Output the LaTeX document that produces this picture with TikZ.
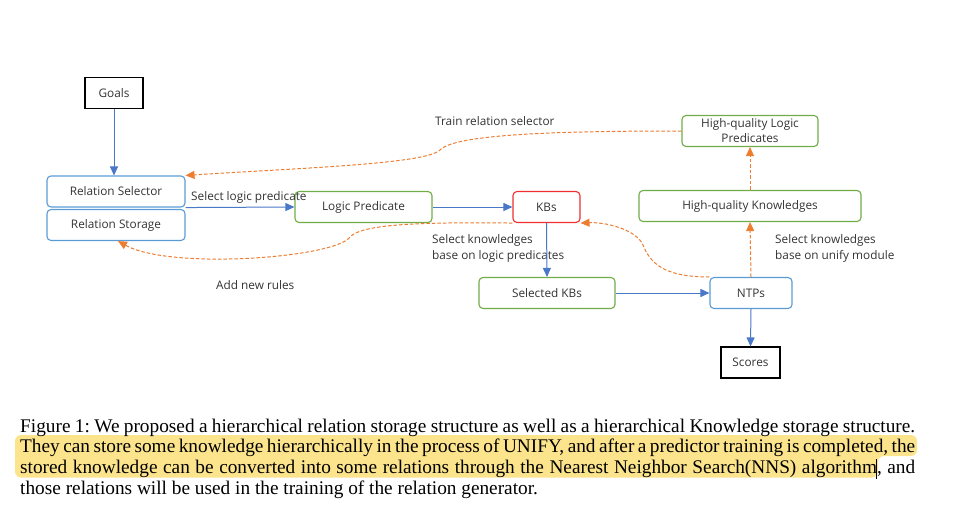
\documentclass[tikz,border=0pt]{standalone}
\usepackage{fontspec}
\setmainfont{Liberation Serif}
\newfontfamily\diagfont{Open Sans}
\usetikzlibrary{arrows.meta}
\definecolor{bluearr}{HTML}{4A78C8}
\definecolor{bluebox}{HTML}{5B9BD5}
\definecolor{greenbox}{HTML}{70AD47}
\definecolor{redbox}{HTML}{F03030}
\definecolor{orangearr}{HTML}{ED7D31}
\definecolor{hilite}{HTML}{FCE48C}
\definecolor{txtgray}{HTML}{333333}
\frenchspacing
\tikzset{
  box/.style={draw, line width=1.1pt, rounded corners=4pt, minimum height=31pt, inner sep=0pt, font=\diagfont\fontsize{11.8}{15}\selectfont, text=txtgray, align=center},
  bluebx/.style={box, draw=bluebox},
  greenbx/.style={box, draw=greenbox},
  redbx/.style={box, draw=redbox},
  blackbx/.style={draw=black, line width=1.1pt, minimum height=31pt, inner sep=0pt, font=\diagfont\fontsize{11.8}{15}\selectfont, text=txtgray},
  barrow/.style={draw=bluearr, line width=1pt, -{Triangle[length=9pt,width=8pt]}, bluearr},
  oarrow/.style={draw=orangearr, line width=1pt, dashed, dash pattern=on 3.5pt off 2pt, -{Triangle[length=9pt,width=8pt]}, orangearr},
  lbl/.style={font=\diagfont\fontsize{11.8}{16}\selectfont, text=txtgray, inner sep=0pt, align=left},
  capline/.style={anchor=base west, inner sep=0pt, font=\fontsize{19.3}{20.5}\selectfont}
}
\begin{document}
\begin{tikzpicture}[x=1pt,y=-1pt]
\useasboundingbox (0,0) rectangle (967,515);
% highlight
\fill[hilite, rounded corners=6pt] (15,435) -- (917,435) -- (917,456) -- (878,456) -- (878,477.5) -- (15,477.5) -- cycle;
% nodes
\node[blackbx, minimum width=58pt] (goals) at (114,93) {Goals};
\node[bluebx, minimum width=138pt] (rs) at (116,191.5) {Relation Selector};
\node[bluebx, minimum width=138pt] (rst) at (116,225) {Relation Storage};
\node[greenbx, minimum width=137pt] (lp) at (363.5,207) {Logic Predicate};
\node[redbx, minimum width=67pt] (kb) at (546.5,207) {KBs};
\node[greenbx, minimum width=136pt] (skb) at (547,293) {Selected KBs};
\node[bluebx, minimum width=82pt] (ntp) at (751,293) {NTPs};
\node[blackbx, minimum width=59pt] (sc) at (750.5,362.5) {Scores};
\node[greenbx, minimum width=222pt] (hqk) at (750,206) {High-quality Knowledges};
\node[greenbx, minimum width=136pt] (hqlp) at (750,131) {High-quality Logic\\Predicates};
% labels
\node[lbl, anchor=west] (l1) at (191,197) {Select logic predicate};
\node[lbl, anchor=west] (l2) at (435,121) {Train relation selector};
\node[lbl, anchor=north west] (l3) at (432,234) {Select knowledges\\base on logic predicates};
\node[lbl, anchor=west] (l4) at (216,285) {Add new rules};
\node[lbl, anchor=north west] (l5) at (775,234) {Select knowledges\\base on unify module};
% solid arrows
\draw[barrow] (goals.south) -- (goals.south |- rs.north);
\draw[barrow] (rs.south east) -- (lp.west);
\draw[barrow] (lp.east) -- (kb.west);
\draw[barrow] (kb.south) -- (skb.north);
\draw[barrow] (skb.east) -- (ntp.west);
\draw[barrow] (ntp.south) -- (sc.north);
% dashed arrows
\draw[oarrow] (ntp.north) -- (hqk.south);
\draw[oarrow] (hqk.north) -- (hqlp.south);
\draw[oarrow] (hqlp.west) .. controls (560,131) and (455,134) .. (440,150)
   .. controls (426,164) and (300,168) .. (rs.north east);
\draw[oarrow] (kb.south west) .. controls (420,222) and (362,224) .. (350,237)
   .. controls (335,258) and (170,270) .. ([xshift=2pt]rst.south);
\draw[oarrow] (ntp.north west) .. controls (662,277) and (650,262) .. (643,245)
   .. controls (636,229) and (605,222) .. (kb.south east);
% caption
\node[capline] (c1) at (20,432) {\hbox to 895pt{Figure 1: We proposed a hierarchical relation storage structure as well as a hierarchical Knowledge storage structure.}};
\node[capline] (c2) at (20,452.5) {\hbox to 895pt{They can store some knowledge hierarchically in the process of UNIFY, and after a predictor training is completed, the}};
\node[capline] (c3) at (20,473.2) {\hbox to 895pt{stored knowledge can be converted into some relations through the Nearest Neighbor Search(NNS) algorithm, and}};
\node[capline] (c4) at (20,494) {those relations will be used in the training of the relation generator.};
\draw[black, line width=0.8pt] (876,459) -- (876,479);
\end{tikzpicture}
\end{document}
